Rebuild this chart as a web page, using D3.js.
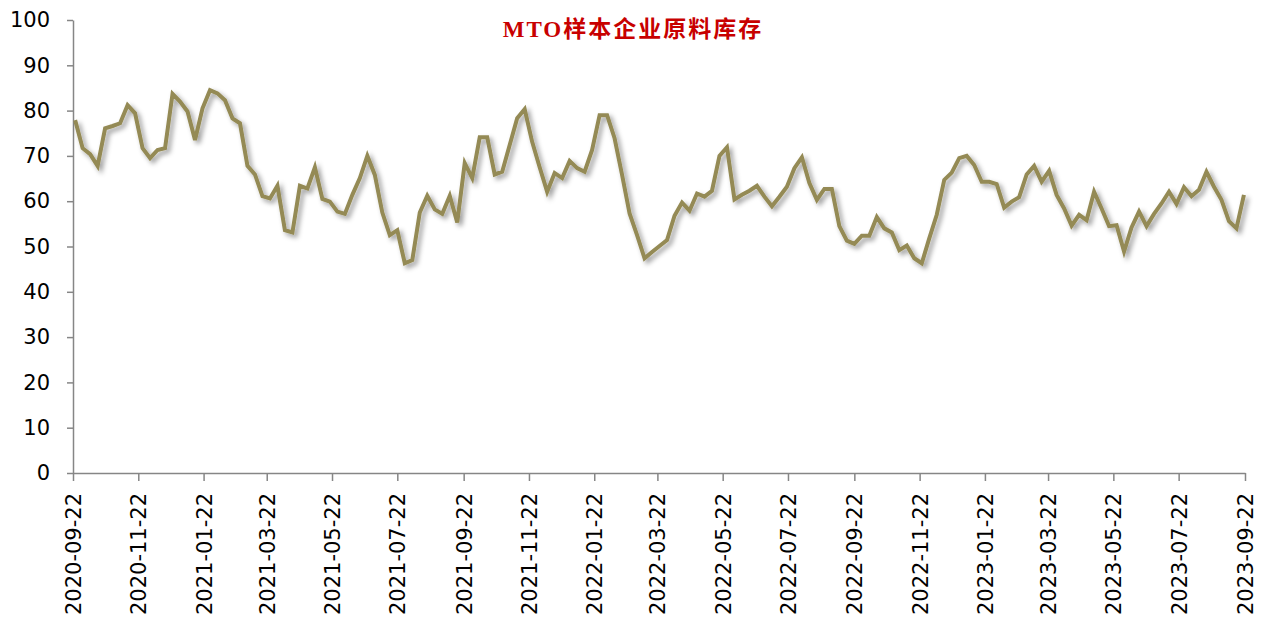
<!DOCTYPE html>
<html>
<head>
<meta charset="utf-8">
<script src="https://cdn.jsdelivr.net/npm/d3@7"></script>
<style>
  html, body { margin: 0; padding: 0; background: #fff; }
  svg { display: block; }
</style>
</head>
<body>
<div id="chart"></div>
<script>
// weekly series
var startDate = "2020-09-24";
var inventory = [
  77.9, 71.7, 70.4, 67.8, 76.1, 76.6, 77.2, 81.2, 79.4, 71.7,
  69.5, 71.3, 71.7, 83.7, 82.0, 79.8, 73.5, 80.5, 84.5, 83.8,
  82.3, 78.3, 77.2, 67.8, 65.9, 61.1, 60.6, 63.4, 53.6, 53.1,
  63.4, 62.8, 67.5, 60.5, 59.9, 57.7, 57.2, 61.4, 65.1, 70.0,
  65.8, 57.5, 52.5, 53.6, 46.3, 47.0, 57.5, 61.2, 58.2, 57.2,
  61.2, 55.3, 68.4, 65.1, 74.1, 74.1, 65.9, 66.5, 72.4, 78.3,
  80.3, 73.1, 67.5, 62.1, 66.2, 65.1, 68.9, 67.3, 66.5, 71.3,
  79.0, 79.0, 73.9, 65.8, 57.3, 52.5, 47.4, 48.8, 50.1, 51.4,
  56.8, 59.7, 57.9, 61.7, 61.0, 62.3, 70.0, 71.9, 60.4, 61.4,
  62.3, 63.4, 61.0, 58.9, 61.0, 63.2, 67.3, 69.7, 64.0, 60.3,
  62.7, 62.7, 54.5, 51.3, 50.6, 52.4, 52.4, 56.5, 54.0, 53.1,
  49.2, 50.2, 47.4, 46.3, 51.8, 57.0, 64.7, 66.3, 69.5, 70.0,
  68.0, 64.3, 64.3, 63.8, 58.6, 59.9, 60.9, 65.9, 67.8, 64.3,
  66.7, 61.4, 58.4, 54.6, 57.0, 55.8, 62.1, 58.4, 54.5, 54.7,
  48.9, 54.2, 57.7, 54.5, 57.2, 59.5, 62.1, 59.4, 63.1, 61.1,
  62.5, 66.5, 63.2, 60.3, 55.6, 54.0, 61.4
];
var xTicks = [
  "2020-09-22", "2020-11-22", "2021-01-22", "2021-03-22", "2021-05-22",
  "2021-07-22", "2021-09-22", "2021-11-22", "2022-01-22", "2022-03-22",
  "2022-05-22", "2022-07-22", "2022-09-22", "2022-11-22", "2023-01-22",
  "2023-03-22", "2023-05-22", "2023-07-22", "2023-09-22"
];
var yTicks = [0, 10, 20, 30, 40, 50, 60, 70, 80, 90, 100];
var title = "MTO样本企业原料库存";

var width = 1268, height = 621;
var margin = { top: 20, right: 23, bottom: 148, left: 73 };
var innerW = width - margin.left - margin.right;
var innerH = height - margin.top - margin.bottom;

var parseDate = d3.timeParse("%Y-%m-%d");
var start = parseDate(startDate);
var data = inventory.map(function (v, i) {
  return { date: d3.timeWeek.offset(start, i), value: v };
});

var svg = d3.select("#chart").append("svg")
  .attr("width", width)
  .attr("height", height);

var defs = svg.append("defs");
var shadow = defs.append("filter").attr("id", "shadow")
  .attr("x", "-5%").attr("y", "-20%").attr("width", "110%").attr("height", "140%");
shadow.append("feDropShadow")
  .attr("dx", 3).attr("dy", 3).attr("stdDeviation", 2.5)
  .attr("flood-color", "#000").attr("flood-opacity", 0.4);

var g = svg.append("g")
  .attr("transform", "translate(" + margin.left + "," + margin.top + ")");

var x = d3.scaleTime()
  .domain([parseDate(xTicks[0]), parseDate(xTicks[xTicks.length - 1])])
  .range([0, innerW]);
var y = d3.scaleLinear().domain([0, 100]).range([innerH, 0]);

// y axis
var yAxis = g.append("g")
  .call(d3.axisLeft(y).tickValues(yTicks).tickSize(6).tickPadding(17).tickSizeOuter(0));
yAxis.select(".domain").attr("stroke", "#868686").attr("stroke-width", 1.5);
yAxis.selectAll(".tick line").attr("stroke", "#868686").attr("stroke-width", 1.5);
yAxis.selectAll(".tick text")
  .attr("fill", "#000")
  .style("font-family", "DejaVu Sans, sans-serif")
  .style("font-size", "21px");

// x axis
var xAxis = g.append("g")
  .attr("transform", "translate(0," + innerH + ")")
  .call(d3.axisBottom(x)
    .tickValues(xTicks.map(parseDate))
    .tickFormat(d3.timeFormat("%Y-%m-%d"))
    .tickSize(8).tickSizeOuter(0));
xAxis.select(".domain").attr("stroke", "#868686").attr("stroke-width", 1.5);
xAxis.selectAll(".tick line").attr("stroke", "#868686").attr("stroke-width", 1.5);
xAxis.selectAll(".tick text")
  .attr("fill", "#000")
  .attr("transform", "rotate(-90)")
  .attr("text-anchor", "end")
  .attr("x", -20)
  .attr("y", 0)
  .attr("dy", "0.36em")
  .style("font-family", "DejaVu Sans, sans-serif")
  .style("font-size", "21px");

// series line
var line = d3.line()
  .x(function (d) { return x(d.date); })
  .y(function (d) { return y(d.value); });

g.append("path")
  .datum(data)
  .attr("d", line)
  .attr("fill", "none")
  .attr("stroke", "#948A54")
  .attr("stroke-width", 4)
  .attr("stroke-linejoin", "miter")
  .attr("filter", "url(#shadow)");

// title
svg.append("text")
  .attr("x", 633)
  .attr("y", 37)
  .attr("text-anchor", "middle")
  .attr("fill", "#C80000")
  .style("font-family", "Liberation Serif, Noto Sans CJK SC, serif")
  .style("font-weight", "bold")
  .style("font-size", "23px")
  .style("letter-spacing", "2px")
  .text(title);
</script>
</body>
</html>
